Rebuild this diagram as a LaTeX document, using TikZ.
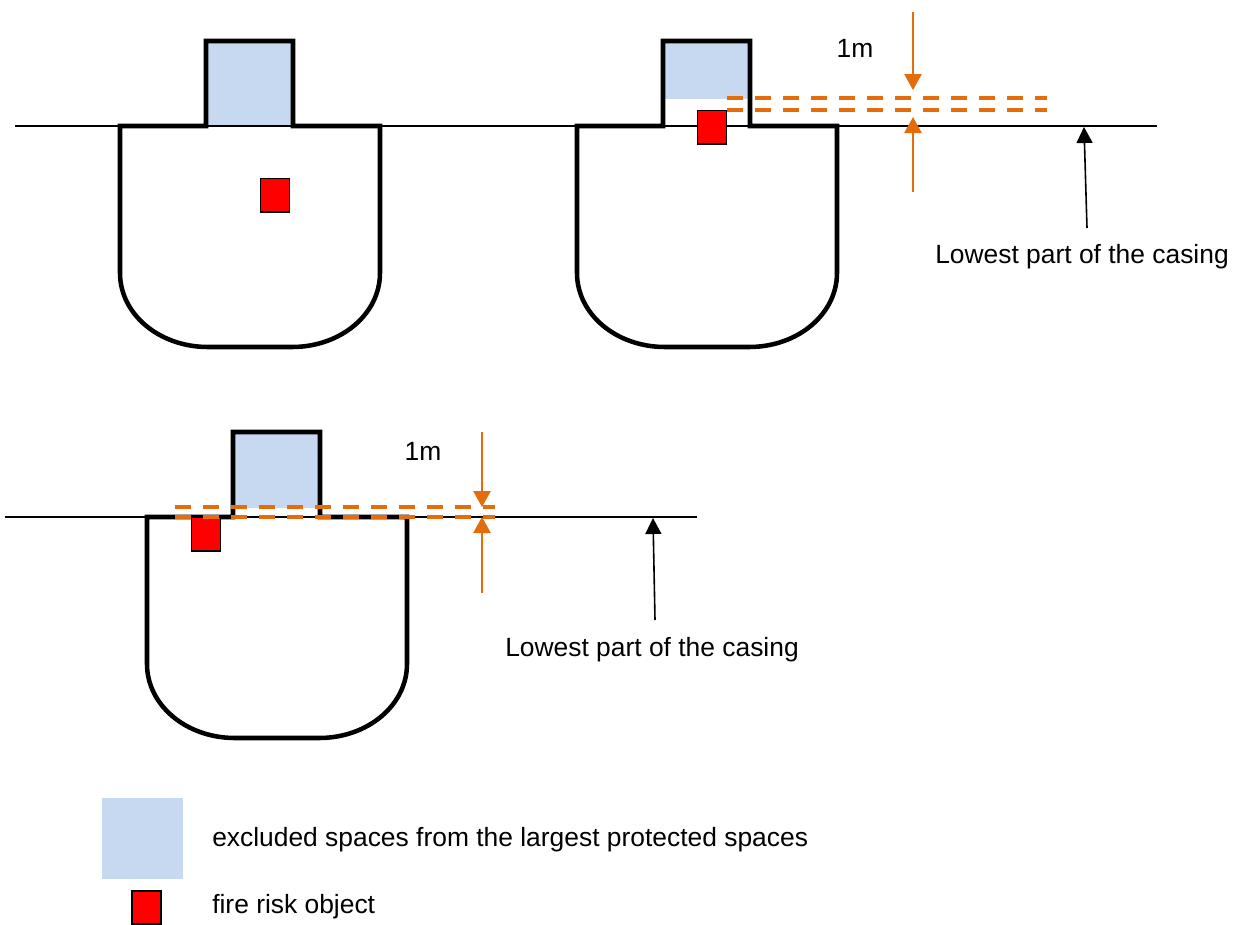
\documentclass[tikz,border=0pt]{standalone}
\usepackage{fontspec}
\setmainfont{Liberation Sans}
\usetikzlibrary{arrows.meta}

\definecolor{dimorange}{HTML}{E46C0A}
\definecolor{exclblue}{HTML}{C6D9F1}
\definecolor{firered}{HTML}{FF0000}

\begin{document}
\begin{tikzpicture}[x=0.75pt, y=-0.75pt,
	hull/.style={line width=3.4pt, line join=miter},
	waterline/.style={line width=1pt},
	fire/.style={draw, line width=0.9pt, fill=firered, inner sep=0pt, minimum width=21.5pt, minimum height=25pt, anchor=north west},
	onem/.style={dimorange, line width=3.3pt, dash pattern=on 12pt off 9pt},
	dimarrow/.style={dimorange, line width=1.2pt, -{Triangle[length=12pt, width=13pt]}},
	casearrow/.style={black, line width=1.2pt, -{Triangle[length=12pt, width=12pt]}},
	lbl/.style={font=\fontsize{19.8}{24}\selectfont, inner sep=0pt}]

\useasboundingbox (0,0) rectangle (1236,925);

% excluded spaces in the casings
\fill[exclblue] (206,41) rectangle (293,126);
\fill[exclblue] (664,41) rectangle (750,99);
\fill[exclblue] (233,432) rectangle (319,508);

% the lines through the lowest part of the casing
\draw[waterline] (15,126) -- (1157,126);
\draw[waterline] (5,517) -- (697,517);

% draw the three hulls
\foreach \hx/\hy in {120/126, 577/126, 147/517}
{
	\draw[hull] (\hx,\hy) -- ({\hx+86},\hy) -- ({\hx+86},{\hy-85}) -- ({\hx+173},{\hy-85}) -- ({\hx+173},\hy) -- ({\hx+260},\hy) -- ({\hx+260},{\hy+147})
		.. controls ({\hx+260},{\hy+188}) and ({\hx+221},{\hy+221}) .. ({\hx+172},{\hy+221}) -- ({\hx+88},{\hy+221})
		.. controls ({\hx+39},{\hy+221}) and (\hx,{\hy+188}) .. (\hx,{\hy+147}) -- cycle;
}

% fire risk objects
\node[fire] (fireA) at (260,178) {};
\node[fire] (fireB) at (697,110) {};
\node[fire] (fireC) at (191,517) {};

% the 1m band above the lowest part
\draw[onem] (727,98) -- (1047,98);
\draw[onem] (727,110) -- (1047,110);
\draw[onem] (175,507) -- (495,507);
\draw[onem] (175,517) -- (495,517);

% dimension arrows
\coordinate (dimAtop) at (913,12);
\coordinate (dimAtip) at (913,90);
\coordinate (dimAbot) at (913,192);
\coordinate (dimAlow) at (913,117);
\draw[dimarrow] (dimAtop) -- (dimAtip);
\draw[dimarrow] (dimAbot) -- (dimAlow);
\node[lbl] (oneA) at (855,48) {1m};

\coordinate (dimBtop) at (482,432);
\coordinate (dimBtip) at (482,507);
\coordinate (dimBbot) at (482,593);
\coordinate (dimBlow) at (482,517);
\draw[dimarrow] (dimBtop) -- (dimBtip);
\draw[dimarrow] (dimBbot) -- (dimBlow);
\node[lbl] (oneB) at (423,451) {1m};

% lowest part of the casing
\node[lbl] (lowA) at (1082,257) {Lowest part of the casing};
\coordinate (lowAfoot) at (1087,228);
\coordinate (lowAline) at (1084,127);
\draw[casearrow] (lowAfoot) -- (lowAline);

\node[lbl] (lowB) at (652,650) {Lowest part of the casing};
\coordinate (lowBfoot) at (655,620);
\coordinate (lowBline) at (653,518);
\draw[casearrow] (lowBfoot) -- (lowBline);

% legend
\node[fill=exclblue, inner sep=0pt, minimum size=60.75pt, anchor=north west] (keyexcl) at (102,798) {};
\node[lbl, anchor=west] (keyexcltxt) at (212,840) {excluded spaces from the largest protected spaces};
\node[fire, line width=1.4pt, minimum width=22pt] (keyfire) at (131,890) {};
\node[lbl, anchor=west] (keyfiretxt) at (212,907) {fire risk object};

\end{tikzpicture}
\end{document}
